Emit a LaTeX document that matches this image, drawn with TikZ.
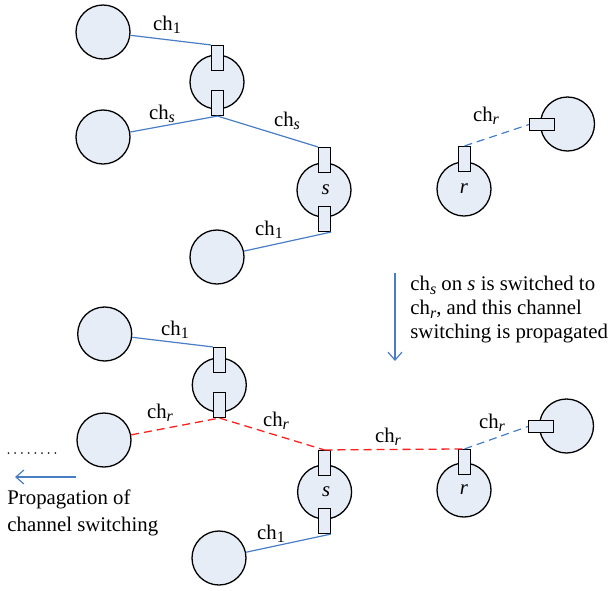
\documentclass[tikz,border=0pt]{standalone}
\usepackage{fontspec}
\setmainfont{Liberation Serif}
\usetikzlibrary{arrows.meta}
\definecolor{nodefill}{HTML}{E7EDF6}
\definecolor{linkblue}{HTML}{4A7EC4}
\definecolor{linkred}{HTML}{FF2020}
\newcommand{\chlab}[1]{ch\raisebox{-0.35ex}{\fontsize{8pt}{8pt}\selectfont #1}}
\tikzset{
  nd/.style={circle, draw=black, fill=nodefill, line width=0.65pt, minimum size=27pt, inner sep=0pt, font=\fontsize{10.4pt}{12pt}\selectfont\itshape},
  vport/.style={rectangle, draw=black, fill=nodefill, line width=0.55pt, minimum width=6pt, minimum height=12.5pt, inner sep=0pt},
  hport/.style={rectangle, draw=black, fill=nodefill, line width=0.55pt, minimum width=12.5pt, minimum height=6pt, inner sep=0pt},
  blink/.style={draw=linkblue, line width=0.6pt},
  rdash/.style={draw=linkred, line width=0.65pt, dash pattern=on 4pt off 2.5pt},
  bdash/.style={draw=linkblue, line width=0.6pt, dash pattern=on 4pt off 2.5pt},
  lab/.style={font=\fontsize{10.4pt}{12pt}\selectfont, inner sep=0pt},
  txt/.style={font=\fontsize{10.4pt}{12pt}\selectfont, inner sep=0pt, align=left}
}
\begin{document}
\begin{tikzpicture}[x=0.5pt, y=-0.5pt]
\useasboundingbox (0,0) rectangle (611,590);
% ---------- top half ----------
\node[nd] (A) at (103,32) {};
\node[nd] (B) at (217,82) {};
\node[vport] (Bt) at (217.5,58) {};
\node[vport] (Bb) at (217.5,103) {};
\node[nd] (C) at (103,137) {};
\node[nd] (S) at (324,190) {$\,$s};
\node[vport] (St) at (324.5,160) {};
\node[vport] (Sb) at (324.5,219) {};
\node[nd] (D) at (217,257) {};
\node[nd] (R) at (464,189) {r};
\node[vport] (Rt) at (464.5,159) {};
\node[nd] (T) at (567.5,124) {};
\node[hport] (Th) at (542,124.5) {};
\draw[blink] (A) -- (Bt.north west);
\draw[blink] (C) -- (Bb.south);
\draw[blink] (Bb.south) -- (St.north west);
\draw[blink] (D) -- (Sb.south east);
\draw[bdash] (Rt.north) -- (Th.west);
\node[lab] (l1) at (167,25) {\chlab{1}};
\node[lab] (l2) at (162,114) {\chlab{\textit{s}}};
\node[lab] (l3) at (287,121) {\chlab{\textit{s}}};
\node[lab] (l4) at (269,230) {\chlab{1}};
\node[lab] (l5) at (486,116) {\chlab{\textit{r}}};
% ---------- middle arrow and text ----------
\coordinate (arS) at (395,273);
\coordinate (arE) at (395,361);
\draw[draw=linkblue, line width=0.6pt, -{Straight Barb[length=4pt,width=7pt]}] (arS) -- (arE);
\node[txt, anchor=north west] (expl) at (410,276)
  {\chlab{\textit{s}} on \textit{s} is switched to\\ \chlab{\textit{r}}, and this channel\\ switching is propagated};
% ---------- bottom half ----------
\node[nd] (A2) at (104.7,334) {};
\node[nd] (B2) at (219.3,385) {};
\node[vport] (B2t) at (219.5,360) {};
\node[vport] (B2b) at (219.5,405) {};
\node[nd] (L2) at (104,440) {};
\node[nd] (S2) at (324.6,492) {$\,$s};
\node[vport] (S2t) at (324.5,463) {};
\node[vport] (S2b) at (324.5,521) {};
\node[nd] (D2) at (219,558) {};
\node[nd] (R2) at (464,490) {r};
\node[vport] (R2t) at (464.5,462) {};
\node[nd] (T2) at (566.5,426) {};
\node[hport] (T2h) at (541,426.5) {};
\draw[blink] (A2) -- (B2t.north west);
\draw[rdash] (L2) -- (B2b.south);
\draw[rdash] (B2b.south) -- (S2t.north);
\draw[rdash] (S2t.north) -- (R2t.north);
\draw[bdash] (R2t.north) -- (T2h.west);
\draw[blink] (D2) -- (S2b.south east);
\node[lab] (m1) at (175,330) {\chlab{1}};
\node[lab] (m2) at (160,413) {\chlab{\textit{r}}};
\node[lab] (m3) at (276,421) {\chlab{\textit{r}}};
\node[lab] (m4) at (388,437) {\chlab{\textit{r}}};
\node[lab] (m5) at (492,423) {\chlab{\textit{r}}};
\node[lab] (m6) at (271,534) {\chlab{1}};
% ---------- propagation legend ----------
\coordinate (dotS) at (8.5,453);
\coordinate (dotE) at (56,453);
\draw[draw=black!85, line width=1pt, line cap=round, dash pattern=on 0pt off 3.35pt] (dotS) -- (dotE);
\coordinate (parS) at (76,477);
\coordinate (parE) at (15,477);
\draw[draw=linkblue, line width=0.6pt, -{Straight Barb[length=4pt,width=7pt]}] (parS) -- (parE);
\node[txt, anchor=north west, font=\fontsize{10.4pt}{13.5pt}\selectfont] (prop) at (7,489) {Propagation of\\channel switching};
\end{tikzpicture}
\end{document}
